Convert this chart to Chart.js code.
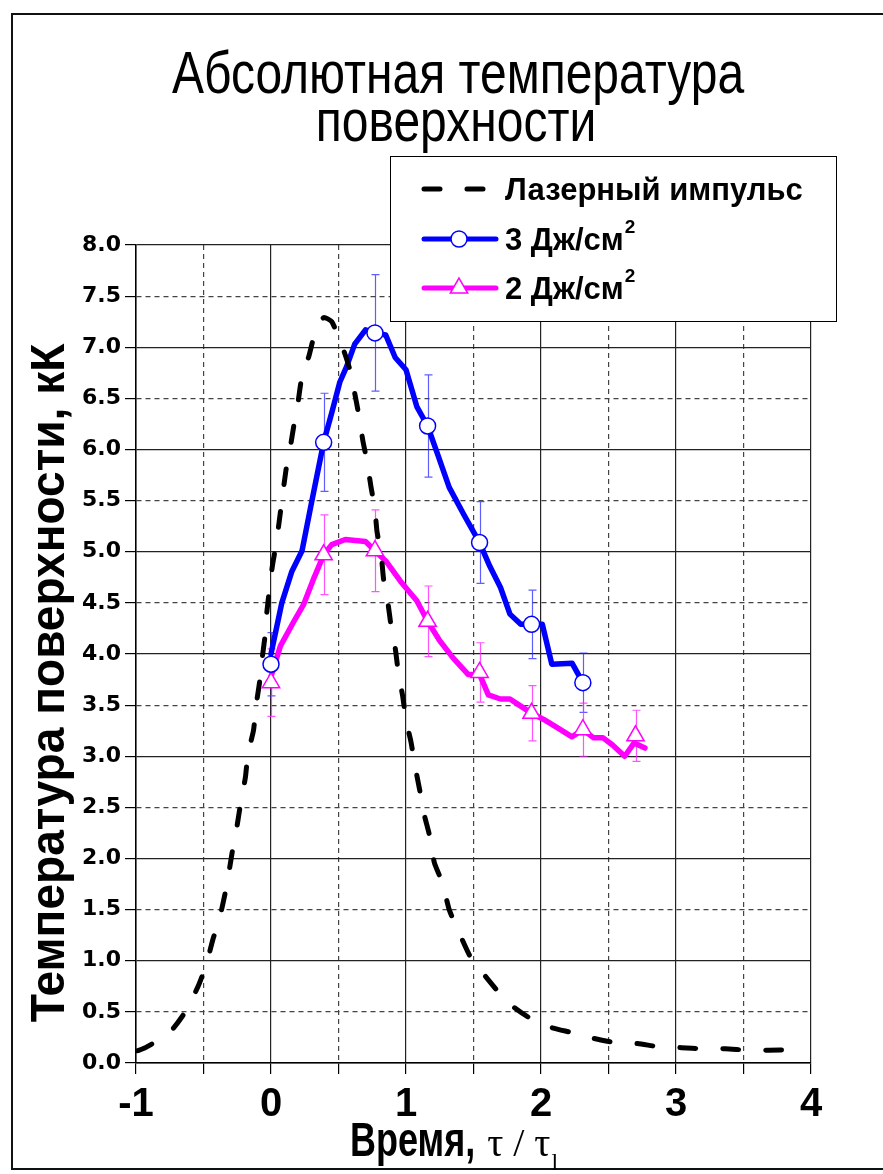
<!DOCTYPE html>
<html>
<head>
<meta charset="utf-8">
<script src="https://cdn.jsdelivr.net/npm/chart.js@4/dist/chart.umd.min.js"></script>
<style>
  html, body { margin: 0; padding: 0; background: #ffffff; }
  canvas { display: block; }
</style>
</head>
<body>
<canvas id="chart" width="883" height="1174"></canvas>
<script>
// Laser pulse profile (dashed black curve), time in units of pulse duration
const laserX = [-0.99, -0.93, -0.75, -0.63, -0.54, -0.48, -0.43, -0.38, -0.34, -0.31, -0.28, -0.25,
  -0.22, -0.19, -0.17, -0.13, -0.11, -0.085, -0.065, -0.045, -0.03, 0.01, 0.04, 0.11, 0.14, 0.17,
  0.20, 0.23, 0.28, 0.33, 0.39, 0.45, 0.53, 0.58, 0.62, 0.65, 0.68, 0.71, 0.74, 0.77, 0.785, 0.815,
  0.834, 0.864, 0.891, 0.921, 0.945, 0.975, 1.002, 1.037, 1.069, 1.10, 1.135, 1.175, 1.21, 1.27,
  1.32, 1.385, 1.476, 1.587, 1.748, 1.891, 2.07, 2.22, 2.395, 2.55, 2.715, 2.87, 3.04, 3.20, 3.365,
  3.53, 3.686, 3.852];
const laserY = [0.12, 0.15, 0.30, 0.51, 0.75, 0.96, 1.21, 1.42, 1.66, 1.88, 2.12, 2.33,
  2.58, 2.79, 3.03, 3.25, 3.50, 3.72, 3.96, 4.17, 4.42, 4.86, 5.09, 5.79, 6.00, 6.24,
  6.46, 6.72, 6.91, 7.16, 7.29, 7.25, 7.00, 6.80, 6.55, 6.34, 6.09, 5.89, 5.64, 5.41, 5.20, 4.99,
  4.73, 4.52, 4.26, 4.05, 3.80, 3.59, 3.34, 3.14, 2.89, 2.68, 2.43, 2.22, 1.96, 1.76,
  1.50, 1.30, 1.04, 0.85, 0.60, 0.46, 0.35, 0.30, 0.24, 0.20, 0.19, 0.16, 0.15, 0.14, 0.14,
  0.125, 0.125, 0.13];

// Surface temperature, 3 J/cm2 (blue)
const e3LineX = [0.0, 0.08, 0.155, 0.23, 0.30, 0.39, 0.45, 0.51, 0.56, 0.62, 0.70, 0.77, 0.85, 0.92,
  1.00, 1.08, 1.16, 1.23, 1.32, 1.43, 1.545, 1.62, 1.70, 1.77, 1.85, 1.93, 2.01, 2.08, 2.23, 2.31];
const e3LineY = [4.00, 4.50, 4.81, 5.01, 5.48, 6.07, 6.36, 6.66, 6.81, 7.03, 7.17, 7.14, 7.12, 6.90,
  6.78, 6.42, 6.23, 5.97, 5.63, 5.36, 5.09, 4.86, 4.65, 4.39, 4.29, 4.29, 4.29, 3.90, 3.91, 3.72];
const e3PointX = [0.0, 0.39, 0.77, 1.16, 1.545, 1.93, 2.31];
const e3PointY = [3.90, 6.07, 7.14, 6.23, 5.09, 4.29, 3.72];
const e3Err = [0.31, 0.48, 0.57, 0.50, 0.40, 0.335, 0.29];

// Surface temperature, 2 J/cm2 (magenta)
const e2LineX = [0.0, 0.07, 0.17, 0.24, 0.32, 0.39, 0.45, 0.55, 0.70, 0.77, 0.85, 0.96, 1.08, 1.16,
  1.25, 1.35, 1.46, 1.545, 1.61, 1.70, 1.77, 1.85, 1.93, 2.02, 2.12, 2.23, 2.31, 2.39, 2.46, 2.53,
  2.62, 2.69, 2.77];
const e2LineY = [3.78, 4.08, 4.32, 4.48, 4.75, 4.97, 5.07, 5.12, 5.10, 5.01, 4.91, 4.71, 4.52, 4.32,
  4.13, 3.96, 3.80, 3.80, 3.60, 3.56, 3.56, 3.49, 3.42, 3.36, 3.28, 3.19, 3.26, 3.18, 3.18, 3.11,
  3.00, 3.13, 3.08];
const e2PointX = [0.0, 0.39, 0.77, 1.16, 1.545, 1.93, 2.31, 2.70];
const e2PointY = [3.72, 4.97, 5.01, 4.32, 3.82, 3.42, 3.26, 3.20];
const e2Err = [0.33, 0.39, 0.40, 0.345, 0.29, 0.27, 0.26, 0.25];

// Text
const titleLines = ['Абсолютная температура', 'поверхности'];
const legendLabels = ['Лазерный импульс', '3 Дж/см', '2 Дж/см'];
const yAxisTitle = 'Температура поверхности, кК';
const xAxisTitle = 'Время,';
const xAxisSymbol = 'τ / τ';
const xAxisSub = 'l';

const BLUE = '#0000ff';
const MAGENTA = '#ff00ff';
const LASER_DASH = [16, 27];
const SANS = '"Liberation Sans", Arial, sans-serif';
const SERIF = '"Liberation Serif", "Times New Roman", serif';

const pts = (xs, ys) => xs.map((x, i) => ({ x, y: ys[i] }));

// Vertical error bars with short caps, drawn beneath the markers
const errorBars = {
  id: 'errorBars',
  beforeDatasetsDraw(chart) {
    const { ctx, scales: { x, y } } = chart;
    ctx.save();
    ctx.beginPath();
    ctx.rect(chart.chartArea.left, chart.chartArea.top, chart.chartArea.width, chart.chartArea.height);
    ctx.clip();
    chart.data.datasets.forEach(ds => {
      if (!ds.errors) return;
      ctx.strokeStyle = ds.errorColor;
      ctx.lineWidth = 1.2;
      ds.data.forEach((p, i) => {
        const px = Math.round(x.getPixelForValue(p.x)) + 0.5;
        const top = y.getPixelForValue(p.y + ds.errors[i]);
        const bot = y.getPixelForValue(p.y - ds.errors[i]);
        ctx.beginPath();
        ctx.moveTo(px, top); ctx.lineTo(px, bot);
        ctx.moveTo(px - 4, top); ctx.lineTo(px + 4, top);
        ctx.moveTo(px - 4, bot); ctx.lineTo(px + 4, bot);
        ctx.stroke();
      });
    });
    ctx.restore();
  }
};

// Text squeezed horizontally (narrow face look)
function narrowText(ctx, text, x, y, font, sx, align) {
  ctx.save();
  ctx.translate(x, y);
  ctx.scale(sx, 1);
  ctx.font = font;
  ctx.textAlign = align || 'left';
  ctx.fillText(text, 0, 0);
  const w = ctx.measureText(text).width * sx;
  ctx.restore();
  return w;
}

function drawSup(ctx, text, sup, x, baseline) {
  ctx.font = 'bold 31px ' + SANS;
  ctx.fillText(text, x, baseline);
  const w = ctx.measureText(text).width;
  ctx.font = 'bold 19px ' + SANS;
  ctx.fillText(sup, x + w + 1, baseline - 17);
}

// Frame, title, axis titles and legend box
const decorations = {
  id: 'decorations',
  beforeDraw(chart) {
    const { ctx } = chart;
    ctx.save();
    ctx.fillStyle = '#ffffff';
    ctx.fillRect(0, 0, chart.width, chart.height);
    ctx.restore();
  },
  afterDraw(chart) {
    const { ctx } = chart;
    ctx.save();
    // outer frame
    ctx.strokeStyle = '#111';
    ctx.lineWidth = 2;
    ctx.strokeRect(12, 14, 900, 1155);

    // title
    ctx.fillStyle = '#000';
    ctx.textBaseline = 'alphabetic';
    narrowText(ctx, titleLines[0], 458, 93, '60px ' + SANS, 0.8, 'center');
    narrowText(ctx, titleLines[1], 456, 141, '60px ' + SANS, 0.8, 'center');

    // y-axis title
    ctx.save();
    ctx.translate(64, 683);
    ctx.rotate(-Math.PI / 2);
    narrowText(ctx, yAxisTitle, 0, 0, 'bold 48px ' + SANS, 0.96, 'center');
    ctx.restore();

    // x-axis title
    let xp = 350 + narrowText(ctx, xAxisTitle, 350, 1156, 'bold 48px ' + SANS, 0.75, 'left') + 12;
    ctx.textAlign = 'left';
    ctx.font = '40px ' + SERIF;
    ctx.fillText(xAxisSymbol, xp, 1156);
    xp += ctx.measureText(xAxisSymbol).width + 1;
    ctx.font = '24px ' + SERIF;
    ctx.fillText(xAxisSub, xp, 1170);

    // legend
    const lx = 390, ly = 156, lw = 446, lh = 165;
    ctx.fillStyle = '#ffffff';
    ctx.fillRect(lx, ly, lw, lh);
    ctx.strokeStyle = '#000';
    ctx.lineWidth = 1;
    ctx.strokeRect(lx + 0.5, ly + 0.5, lw, lh);

    const sx0 = 424, sx1 = 496, mx = 459;
    // laser entry
    ctx.strokeStyle = '#000';
    ctx.lineWidth = 5;
    ctx.lineCap = 'round';
    ctx.setLineDash(LASER_DASH);
    ctx.beginPath(); ctx.moveTo(424, 189); ctx.lineTo(486, 189); ctx.stroke();
    ctx.setLineDash([]);
    // 3 J/cm2 entry
    ctx.strokeStyle = BLUE;
    ctx.lineWidth = 5;
    ctx.beginPath(); ctx.moveTo(sx0, 239); ctx.lineTo(sx1, 239); ctx.stroke();
    ctx.fillStyle = '#fff';
    ctx.lineWidth = 1.5;
    ctx.beginPath(); ctx.arc(mx, 239, 8, 0, Math.PI * 2); ctx.fill(); ctx.stroke();
    // 2 J/cm2 entry
    ctx.strokeStyle = MAGENTA;
    ctx.lineWidth = 5;
    ctx.beginPath(); ctx.moveTo(sx0, 288); ctx.lineTo(sx1, 288); ctx.stroke();
    ctx.lineWidth = 1.5;
    ctx.lineCap = 'butt';
    const r = 10;
    ctx.beginPath();
    ctx.moveTo(mx, 288 - r);
    ctx.lineTo(mx + r * Math.sin(2 * Math.PI / 3), 288 - r * Math.cos(2 * Math.PI / 3));
    ctx.lineTo(mx + r * Math.sin(4 * Math.PI / 3), 288 - r * Math.cos(4 * Math.PI / 3));
    ctx.closePath();
    ctx.fill(); ctx.stroke();

    ctx.fillStyle = '#000';
    ctx.textAlign = 'left';
    ctx.font = 'bold 31px ' + SANS;
    ctx.fillText(legendLabels[0], 505, 200);
    drawSup(ctx, legendLabels[1], '2', 505, 250);
    drawSup(ctx, legendLabels[2], '2', 505, 299);
    ctx.restore();
  }
};

const halfStepDash = ctx => (ctx.tick && Math.abs(ctx.tick.value % 1) > 1e-6) ? [5, 4] : [];
const gridColor = ctx => (ctx.tick && Math.abs(ctx.tick.value % 1) > 1e-6) ? '#444' : '#222';

new Chart(document.getElementById('chart'), {
  type: 'line',
  data: {
    datasets: [
      {
        label: legendLabels[1] + '2',
        data: pts(e3PointX, e3PointY),
        errors: e3Err,
        errorColor: 'rgba(40,40,255,0.75)',
        showLine: false,
        pointStyle: 'circle',
        pointRadius: 8,
        pointBackgroundColor: '#ffffff',
        pointBorderColor: BLUE,
        pointBorderWidth: 1.5,
        order: 0
      },
      {
        label: legendLabels[2] + '2',
        data: pts(e2PointX, e2PointY),
        errors: e2Err,
        errorColor: 'rgba(255,40,255,0.8)',
        showLine: false,
        pointStyle: 'triangle',
        pointRadius: 10,
        pointBackgroundColor: '#ffffff',
        pointBorderColor: MAGENTA,
        pointBorderWidth: 1.5,
        order: 0
      },
      {
        label: legendLabels[0],
        data: pts(laserX, laserY),
        borderColor: '#000000',
        borderWidth: 5,
        borderDash: LASER_DASH,
        borderCapStyle: 'round',
        borderJoinStyle: 'round',
        pointRadius: 0,
        tension: 0.2,
        order: 1
      },
      {
        label: 'line2',
        data: pts(e2LineX, e2LineY),
        borderColor: MAGENTA,
        borderWidth: 5.5,
        borderJoinStyle: 'round',
        borderCapStyle: 'round',
        pointRadius: 0,
        tension: 0,
        order: 2
      },
      {
        label: 'line3',
        data: pts(e3LineX, e3LineY),
        borderColor: BLUE,
        borderWidth: 5.5,
        borderJoinStyle: 'round',
        borderCapStyle: 'round',
        pointRadius: 0,
        tension: 0,
        order: 3
      }
    ]
  },
  options: {
    responsive: false,
    animation: false,
    events: [],
    layout: { padding: { left: 12, right: 72, top: 245, bottom: 0 } },
    plugins: {
      legend: { display: false },
      title: { display: false },
      tooltip: { enabled: false }
    },
    scales: {
      x: {
        type: 'linear',
        min: -1,
        max: 4,
        afterFit: s => { s.height = 111; },
        ticks: {
          stepSize: 0.5,
          autoSkip: false,
          maxRotation: 0,
          padding: 7,
          color: '#000',
          font: { family: SANS, weight: 'bold', size: 40 },
          callback: v => (Math.abs(v % 1) < 1e-6 ? String(v) : '')
        },
        grid: {
          color: gridColor,
          lineWidth: 1.2,
          tickLength: 11,
          tickColor: '#000',
          tickWidth: 1.2
        },
        border: { display: true, color: '#000', width: 1.5, dash: halfStepDash }
      },
      y: {
        type: 'linear',
        min: 0,
        max: 8,
        afterFit: s => { s.width = 124; },
        ticks: {
          stepSize: 0.5,
          autoSkip: false,
          padding: 4,
          color: '#000',
          font: { family: '"DejaVu Sans", Verdana, sans-serif', weight: 'bold', size: 22 },
          callback: v => Number(v).toFixed(1)
        },
        grid: {
          color: gridColor,
          lineWidth: 1.2,
          tickLength: 11,
          tickColor: '#000',
          tickWidth: 1.2
        },
        border: { display: true, color: '#000', width: 1.5, dash: halfStepDash }
      }
    }
  },
  plugins: [errorBars, decorations]
});
</script>
</body>
</html>
